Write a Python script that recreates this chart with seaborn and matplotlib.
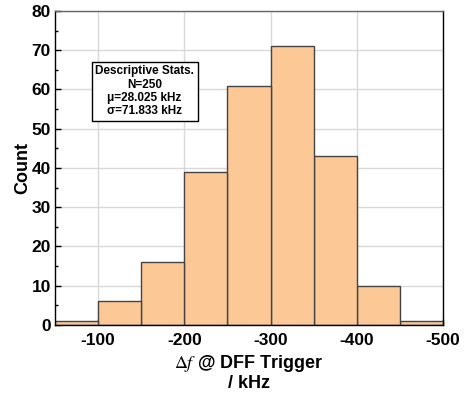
import matplotlib
matplotlib.use("Agg")
import matplotlib.pyplot as plt
import seaborn as sns
import numpy as np

bin_edges = [-500, -450, -400, -350, -300, -250, -200, -150, -100, -50]
counts = [1, 10, 43, 71, 61, 39, 16, 6, 1]
x_ticks = [-100, -200, -300, -400, -500]
y_ticks = [0, 10, 20, 30, 40, 50, 60, 70, 80]
stats_text = "Descriptive Stats.\nN=250\nμ=28.025 kHz\nσ=71.833 kHz"

sns.set_style("white")
plt.rcParams['font.family'] = ['Liberation Sans', 'DejaVu Sans']
plt.rcParams['mathtext.fontset'] = 'stix'
for k in ['text.color', 'axes.labelcolor', 'xtick.color', 'ytick.color']:
    plt.rcParams[k] = 'black'

centers = [(bin_edges[i] + bin_edges[i + 1]) / 2 for i in range(len(counts))]

fig = plt.figure(figsize=(4.68, 3.95), dpi=100)
ax = fig.add_axes([0.1175, 0.1772, 0.829, 0.795])
ax.set_axisbelow(True)
ax.grid(True, color='#d8d8d8', linewidth=1.0)
sns.histplot(x=centers, weights=counts, bins=bin_edges, ax=ax,
             color='#fcc896', alpha=1.0, edgecolor='#444444', linewidth=1.0)

ax.set_xlim(-50, -500)
ax.set_ylim(0, 80)
ax.set_xticks(x_ticks)
ax.set_xticklabels([str(t) for t in x_ticks])
ax.set_yticks(y_ticks)
ax.set_xticks([-150, -250, -350, -450], minor=True)
ax.set_yticks([5, 15, 25, 35, 45, 55, 65, 75], minor=True)
ax.tick_params(axis='both', which='major', direction='in', length=4, width=1,
               labelsize=12.5, pad=3)
ax.tick_params(axis='x', which='major', pad=6)
ax.tick_params(axis='both', which='minor', direction='in', length=2.5, width=1)
ax.tick_params(axis='x', which='both', bottom=True)
ax.tick_params(axis='y', which='both', left=True)
for lab in ax.get_xticklabels() + ax.get_yticklabels():
    lab.set_fontweight('bold')
for s in ax.spines.values():
    s.set_color('black')
    s.set_linewidth(1.0)
ax.spines['top'].set_color('#666666')

ax.set_ylabel('Count', fontsize=13, fontweight='bold', labelpad=0)
ax.set_xlabel(r'$\Delta f$ @ DFF Trigger' + '\n/ kHz', fontsize=13, fontweight='bold',
              labelpad=3, linespacing=1.1)

ax.text(0.231, 0.744, stats_text, transform=ax.transAxes, ha='center', va='center',
        fontsize=8.5, fontweight='bold', linespacing=1.15,
        bbox=dict(boxstyle='square,pad=0.3', facecolor='white', edgecolor='black', linewidth=1))

fig.savefig('out.png', dpi=100)
